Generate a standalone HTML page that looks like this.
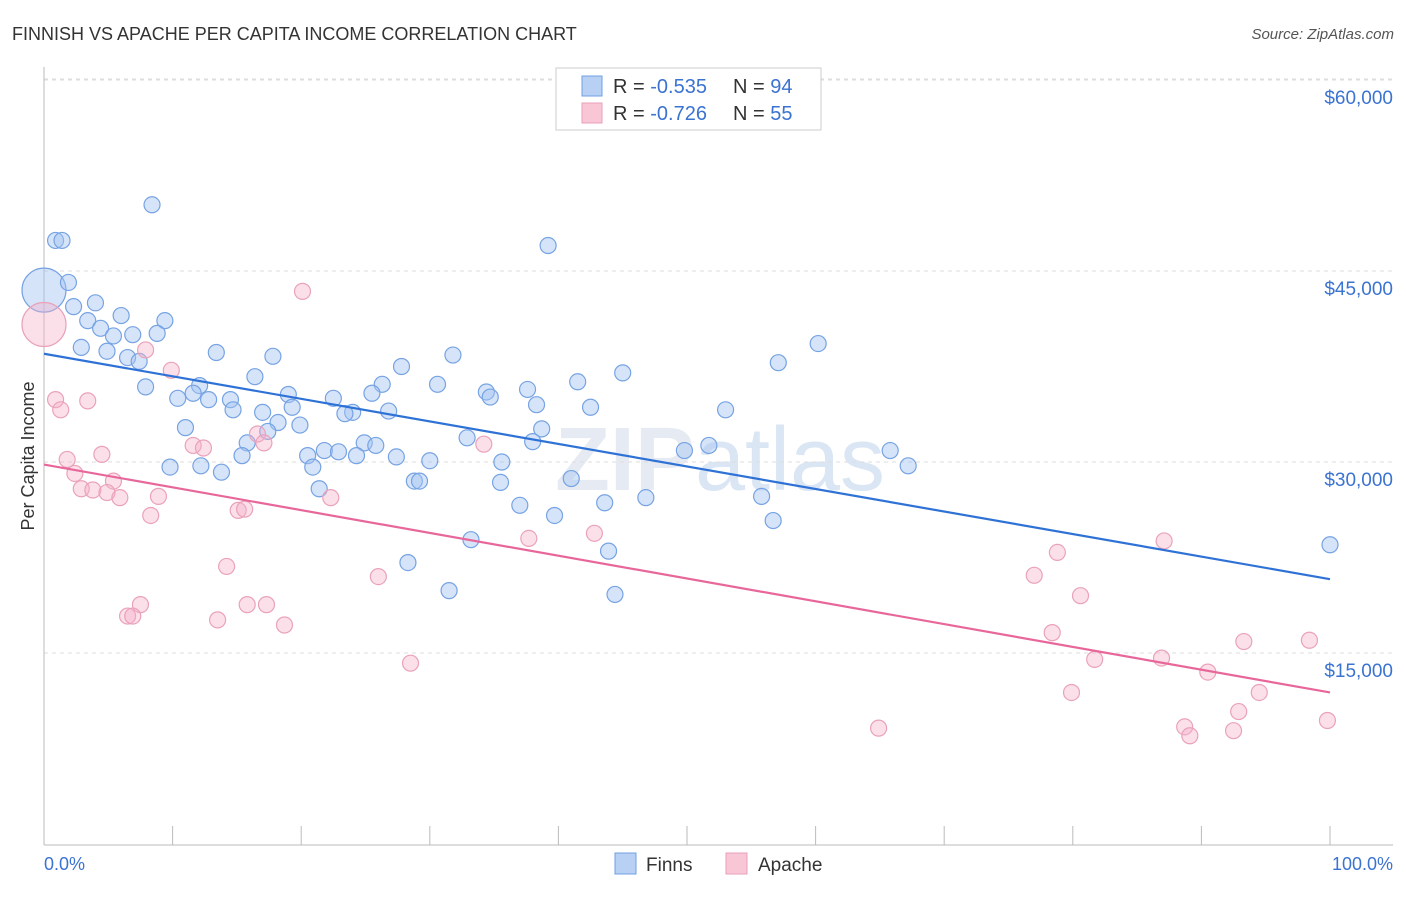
<!DOCTYPE html>
<html><head><meta charset="utf-8">
<style>
body{margin:0;background:#fff;font-family:"Liberation Sans",sans-serif;}
svg text{font-family:"Liberation Sans",sans-serif;}
</style></head>
<body>
<svg id="chart" width="1406" height="892" viewBox="0 0 1406 892">
<text x="12" y="40" font-size="18" fill="#333">FINNISH VS APACHE PER CAPITA INCOME CORRELATION CHART</text>
<text x="1394" y="39" font-size="15" fill="#555" text-anchor="end" font-style="italic">Source: ZipAtlas.com</text>
<text x="720" y="490" font-size="90" fill="#e6ebf3" text-anchor="middle" font-weight="bold">ZIP<tspan font-weight="normal" fill="#dbe6f5">atlas</tspan></text>
<g id="grid"></g>
<g id="axes"></g>
<g id="points"></g>
<g id="lines"></g>
<text x="34" y="456" font-size="18" fill="#333" text-anchor="middle" transform="rotate(-90 34 456)">Per Capita Income</text>
<text x="44" y="870" font-size="18" fill="#3b73d1">0.0%</text>
<text x="1393" y="870" font-size="18" fill="#3b73d1" text-anchor="end">100.0%</text>
<g>
<rect x="556" y="68" width="265" height="62" fill="#fff" stroke="#ccc"/>
<rect x="582" y="76" width="20" height="20" fill="#b9d0f5" stroke="#6f9fe0"/>
<text x="613" y="93" font-size="20" fill="#333">R = <tspan fill="#3b73d1">-0.535</tspan><tspan x="733">N = </tspan><tspan fill="#3b73d1">94</tspan></text>
<rect x="582" y="103" width="20" height="20" fill="#f9c6d6" stroke="#e9a0b8"/>
<text x="613" y="120" font-size="20" fill="#333">R = <tspan fill="#3b73d1">-0.726</tspan><tspan x="733">N = </tspan><tspan fill="#3b73d1">55</tspan></text>
</g>
<g>
<rect x="615" y="853" width="21" height="21" fill="#b9d0f5" stroke="#6f9fe0"/>
<text x="646" y="871" font-size="19" fill="#333">Finns</text>
<rect x="726" y="853" width="21" height="21" fill="#f9c6d6" stroke="#e9a0b8"/>
<text x="758" y="871" font-size="19" fill="#333">Apache</text>
</g>
</svg>
<script>
const yTicks=[15000,30000,45000,60000];
const yTickLabels=["$15,000","$30,000","$45,000","$60,000"];
const xTicks=[0,10,20,30,40,50,60,70,80,90,100];
const finnsX=[0,0.9,1.4,1.9,8.4,39.2,4.0,2.3,3.4,6.0,9.4,4.4,5.4,6.9,8.8,2.9,4.9,6.5,7.4,13.4,17.8,31.8,60.2,57.1,27.8,45.0,16.4,26.3,30.6,41.5,7.9,12.1,11.6,19.0,25.5,34.4,37.6,10.4,12.8,14.5,22.5,34.7,19.3,38.3,42.5,14.7,17.0,24.0,23.4,26.8,53.0,18.2,19.9,11.0,17.4,38.7,32.9,15.8,38.0,24.9,25.8,49.8,51.7,65.8,15.4,20.5,21.8,22.9,24.3,27.4,30.0,35.6,9.8,12.2,20.9,67.2,13.8,28.8,29.2,41.0,35.5,21.4,46.8,55.8,37.0,43.6,39.7,56.7,33.2,43.9,100,28.3,31.5,44.4];
const finnsY=[43.5,47.4,47.4,44.1,50.2,47.0,42.5,42.2,41.1,41.5,41.1,40.5,39.9,40.0,40.1,39.0,38.7,38.2,37.9,38.6,38.3,38.4,39.3,37.8,37.5,37.0,36.7,36.1,36.1,36.3,35.9,36.0,35.4,35.3,35.4,35.5,35.7,35.0,34.9,34.9,35.0,35.1,34.3,34.5,34.3,34.1,33.9,33.9,33.8,34.0,34.1,33.1,32.9,32.7,32.4,32.6,31.9,31.5,31.6,31.5,31.3,30.9,31.3,30.9,30.5,30.5,30.9,30.8,30.5,30.4,30.1,30.0,29.6,29.7,29.6,29.7,29.2,28.5,28.5,28.7,28.4,27.9,27.2,27.3,26.6,26.8,25.8,25.4,23.9,23.0,23.5,22.1,19.9,19.6];
const apacheX=[0,20.1,7.9,9.9,0.9,1.3,3.4,34.2,11.6,12.4,16.6,17.1,4.5,1.8,2.4,5.4,2.9,3.8,4.9,5.9,8.9,22.3,15.1,15.6,8.3,42.8,37.7,87.1,78.8,14.2,26.0,77.0,80.6,7.5,15.8,17.3,6.5,6.9,13.5,18.7,78.4,93.3,98.4,81.7,86.9,28.5,90.5,79.9,94.5,92.9,99.8,64.9,88.7,89.1,92.5];
const apacheY=[40.8,43.4,38.8,37.2,34.9,34.1,34.8,31.4,31.3,31.1,32.2,31.5,30.6,30.2,29.1,28.5,27.9,27.8,27.6,27.2,27.3,27.2,26.2,26.3,25.8,24.4,24.0,23.8,22.9,21.8,21.0,21.1,19.5,18.8,18.8,18.8,17.9,17.9,17.6,17.2,16.6,15.9,16.0,14.5,14.6,14.2,13.5,11.9,11.9,10.4,9.7,9.1,9.2,8.5,8.9];
const finnsTrend=[38.5,20.8];
const apacheTrend=[29.8,11.9];
const NS="http://www.w3.org/2000/svg";
const X=p=>44+p*12.86;
const Y=v=>844-v*191/15000;
function mk(tag,attrs,parent){const e=document.createElementNS(NS,tag);for(const k in attrs)e.setAttribute(k,attrs[k]);document.getElementById(parent).appendChild(e);return e;}
yTicks.forEach((t,i)=>{
 const g=mk('line',{x1:44,x2:1393,y1:Y(t),y2:Y(t),stroke:'#ddd','stroke-dasharray':'4,4'},'grid');
 
 
 const tx=mk('text',{x:1393,y:Y(t)+24,'font-size':19,fill:'#3b73d1','text-anchor':'end'},'axes');
 tx.textContent=yTickLabels[i];
 
 
});
const tg=mk('line',{x1:44,x2:1393,y1:79,y2:79,stroke:'#ddd','stroke-dasharray':'4,4'},'grid');


const xa=mk('line',{x1:44,x2:1393,y1:845,y2:845,stroke:'#bbb'},'axes');


const ya=mk('line',{x1:44,x2:44,y1:67,y2:845,stroke:'#bbb'},'axes');


xTicks.forEach(t=>{
 const l=mk('line',{x1:X(t),x2:X(t),y1:826,y2:845,stroke:'#bbb'},'axes');
 
 
});
function plot(xs,ys,fill,stroke,name){
 xs.forEach((x,i)=>{
  const c=mk('circle',{cx:X(x),cy:Y(ys[i]*1000),r:i===0?22:8,fill:fill,stroke:stroke,'stroke-width':1.2},'points');
  
  
 });
}
plot(finnsX,finnsY,'rgba(165,195,242,0.45)','#76a3e3','finns-point');
plot(apacheX,apacheY,'rgba(246,175,200,0.4)','#eaa2bb','apache-point');
const l1=mk('line',{x1:X(0),x2:X(100),y1:Y(finnsTrend[0]*1000),y2:Y(finnsTrend[1]*1000),stroke:'#2f72d6','stroke-width':2.2},'lines');


const l2=mk('line',{x1:X(0),x2:X(100),y1:Y(apacheTrend[0]*1000),y2:Y(apacheTrend[1]*1000),stroke:'#e8679a','stroke-width':2.2},'lines');


</script>
</body></html>
